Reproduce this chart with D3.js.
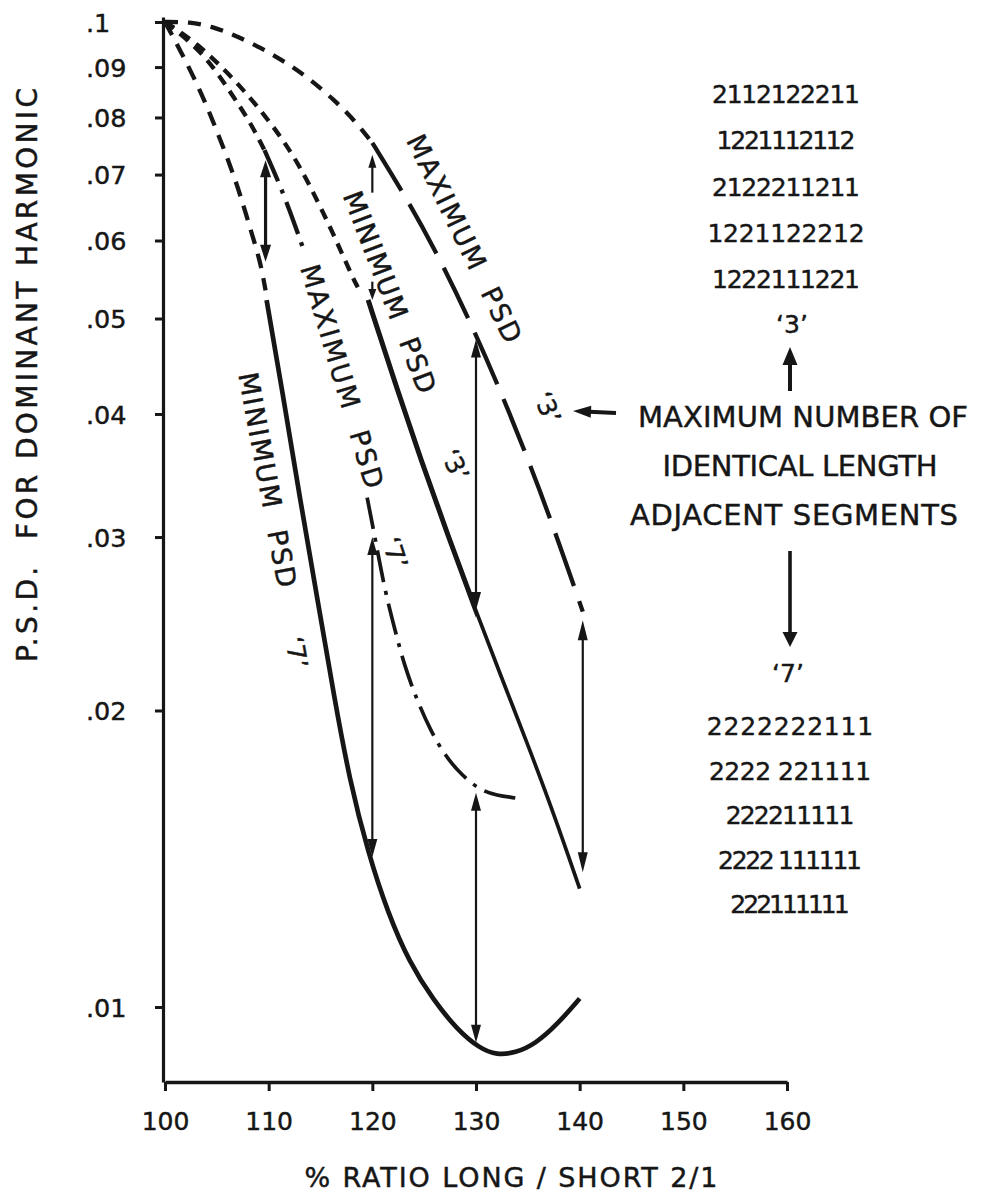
<!DOCTYPE html>
<html>
<head>
<meta charset="utf-8">
<script src="https://cdn.jsdelivr.net/npm/d3@7"></script>
<style>
  html, body { margin: 0; padding: 0; background: #fff; }
  svg { display: block; }
  text {
    font-family: "DejaVu Sans", "Liberation Sans", sans-serif;
    fill: #161616; stroke: #161616; stroke-width: 0.45px; paint-order: stroke;
  }
</style>
</head>
<body>
<svg id="chart" width="981" height="1193"></svg>
<script>
// ---------------- data ----------------
const xTicks = [100, 110, 120, 130, 140, 150, 160];
const yTicks = [0.01, 0.02, 0.03, 0.04, 0.05, 0.06, 0.07, 0.08, 0.09, 0.1];
const yTickLabels = [".01", ".02", ".03", ".04", ".05", ".06", ".07", ".08", ".09", ".1"];

// maximum PSD, '3' patterns
const max3Short = [[100, 0.1], [102.4, 0.1], [104.5, 0.099], [106.8, 0.0969], [109.2, 0.0942],
  [111.6, 0.0911], [114, 0.0875], [116.4, 0.0832], [118.3, 0.0794], [120, 0.0754]];
const max3Long = [[120, 0.0754], [122.9, 0.0673], [125.9, 0.0592], [129.6, 0.0493], [133.3, 0.04],
  [136.2, 0.0334], [138.6, 0.0284], [140.3, 0.0252]];

// minimum PSD, '3' patterns
const min3Short = [[100, 0.1], [103, 0.0954], [106.6, 0.0877], [109.7, 0.0803], [112.2, 0.0738],
  [114, 0.0682], [116.2, 0.0611], [118.1, 0.055], [118.6, 0.0538]];
const min3Solid = [[119.6, 0.0522], [122.1, 0.0433], [124.7, 0.0359], [127.3, 0.0301], [129.8, 0.02555],
  [132.4, 0.02168], [134.9, 0.01858], [137.5, 0.01572], [140, 0.01319]];

// maximum PSD, '7' patterns
const max7Short = [[100, 0.1], [103.7, 0.0932], [106.3, 0.0849], [108.2, 0.0792], [109.6, 0.0741]];
const max7DashDotA = [[109.6, 0.0741], [111.5, 0.0668], [113.3, 0.059]];
const max7DashDotB = [[119.5, 0.0329], [120.3, 0.0298], [121.2, 0.0265], [122.2, 0.0241], [123.1, 0.0222],
  [124.3, 0.0205], [125.6, 0.0191], [127, 0.018], [128.6, 0.0172], [130.4, 0.0166], [132, 0.0164], [133.8, 0.0163]];

// minimum PSD, '7' patterns
const min7Short = [[100, 0.1], [101.45, 0.0937], [103.4, 0.0853], [105.1, 0.0771], [106.9, 0.0688],
  [108.2, 0.0618], [109.2, 0.0571], [109.7, 0.0534]];
const min7Solid = [[109.8, 0.0522], [111.3, 0.0423], [113, 0.0329], [114.8, 0.0256], [116.3, 0.0207],
  [117.8, 0.017], [119.6, 0.01433], [121.5, 0.01246], [123.6, 0.01108], [125.9, 0.01016],
  [128.2, 0.00948], [130.4, 0.00907], [132, 0.00894], [133.8, 0.00898], [135.7, 0.00917],
  [137.8, 0.00959], [140, 0.0102]];

// spread arrows between the curves
const arrowX    = [109.7, 120, 120, 120, 130, 130, 140.3];
const arrowFrom = [0.0724, 0.0671, 0.0545, 0.0300, 0.0476, 0.0165, 0.0247];
const arrowTo   = [0.0571, 0.0733, 0.0522, 0.0142, 0.0253, 0.0092, 0.0137];

// labels along the curves
const curveLabels = ["MAXIMUM  PSD", "MINIMUM  PSD", "MAXIMUM  PSD", "MINIMUM  PSD"];
const curveLabelX = [128.9, 121.7, 117.1, 109.9];
const curveLabelY = [0.0603, 0.0532, 0.0437, 0.0343];
const quoteLabels = ["\u20183\u2019", "\u20183\u2019", "\u20187\u2019", "\u20187\u2019"];
const quoteLabelX = [128.0, 136.9, 122.2, 112.7];
const quoteLabelY = [0.0355, 0.0406, 0.0289, 0.0229];

// segment patterns listed beside the chart
const patterns3 = ["2112122211", "1221112112", "2122211211", "1221122212", "1222111221"];
const patterns7 = ["2222222111", "2222 221111", "222211111", "2222 111111", "222111111"];
const noteLines = ["MAXIMUM NUMBER OF", "IDENTICAL LENGTH", "ADJACENT SEGMENTS"];
const xTitle = "% RATIO LONG / SHORT 2/1";
const yTitle = "P.S.D.  FOR DOMINANT HARMONIC";

// ---------------- layout ----------------
const svg = d3.select("#chart");
const ink = "#161616";

const x = d3.scaleLinear().domain([100, 160]).range([165, 787]);
const yRef = d3.scaleLog().domain([0.01, 0.1]).range([1007, 22]);
const y = d3.scaleLog().domain([yRef.invert(1082), yRef.invert(17)]).range([1082, 17]);

// axes
const gx = svg.append("g")
  .attr("transform", `translate(0,${y.range()[0]})`)
  .call(d3.axisBottom(x).tickValues(xTicks).tickFormat(d3.format("d"))
    .tickSizeInner(9).tickSizeOuter(0).tickPadding(21));
gx.select(".domain").attr("stroke", ink).attr("stroke-width", 3.5);
gx.selectAll(".tick line").attr("stroke", ink).attr("stroke-width", 3);
gx.selectAll(".tick text").attr("font-size", 25).attr("font-family", "DejaVu Sans").attr("fill", ink);

const gy = svg.append("g")
  .attr("transform", `translate(${x(100) - 2},0)`)
  .call(d3.axisLeft(y).tickValues(yTicks).tickFormat((d, i) => yTickLabels[i])
    .tickSizeInner(8).tickSizeOuter(0));
gy.select(".domain").attr("stroke", ink).attr("stroke-width", 3.2);
gy.selectAll(".tick line").attr("stroke", ink).attr("stroke-width", 3);
gy.selectAll(".tick text")
  .attr("font-size", 25.5).attr("font-family", "DejaVu Sans").attr("fill", ink)
  .attr("text-anchor", "start").attr("x", -77).attr("dy", "0.36em");

// axis titles
svg.append("text")
  .attr("x", 511).attr("y", 1187)
  .attr("text-anchor", "middle").attr("font-size", 27)
  .attr("textLength", 413).attr("lengthAdjust", "spacing")
  .style("white-space", "pre")
  .text(xTitle);

svg.append("text")
  .attr("transform", "translate(37,375) rotate(-90)")
  .attr("text-anchor", "middle").attr("font-size", 28)
  .attr("textLength", 574).attr("lengthAdjust", "spacing")
  .style("white-space", "pre")
  .text(yTitle);

// curves
const line = d3.line().x(d => x(d[0])).y(d => y(d[1])).curve(d3.curveBasis);
const curveSegments = [
  { data: max3Short,    dash: "13,10",    width: 4.3 },
  { data: max3Long,     dash: "56,16",    width: 4.3 },
  { data: min3Short,    dash: "11,8",     width: 4.3 },
  { data: min3Solid,    dash: null,       width: 3.7 },
  { data: max7Short,    dash: "11,8",     width: 4.3 },
  { data: max7DashDotA, dash: "34,9,4,9", width: 4.3 },
  { data: max7DashDotB, dash: "32,9,4,9", width: 3.7 },
  { data: min7Short,    dash: "15,10",    width: 4.3 },
  { data: min7Solid,    dash: null,       width: 4.7 }
];
const gc = svg.append("g");
gc.selectAll("path")
  .data(curveSegments)
  .join("path")
  .attr("d", d => line(d.data))
  .attr("fill", "none")
  .attr("stroke", ink)
  .attr("stroke-width", d => d.width)
  .attr("stroke-dasharray", d => d.dash)
  .attr("stroke-linejoin", "round");

// the minimum '3' curve is drawn heavier up to 130
svg.append("clipPath").attr("id", "upperPart")
  .append("rect")
  .attr("x", x(100)).attr("y", 0)
  .attr("width", x(130) - x(100)).attr("height", y.range()[0]);
gc.append("path")
  .attr("d", line(min3Solid))
  .attr("clip-path", "url(#upperPart)")
  .attr("fill", "none").attr("stroke", ink).attr("stroke-width", 5);

// arrow helper: shaft plus filled heads
function drawArrow(g, x1, y1, x2, y2, o) {
  const dx = x2 - x1, dy = y2 - y1, len = Math.hypot(dx, dy);
  const ux = dx / len, uy = dy / len, px = -uy, py = ux;
  const inset = o.headL * 0.6;
  const sx = o.start ? x1 + ux * inset : x1, sy = o.start ? y1 + uy * inset : y1;
  const ex = o.end ? x2 - ux * inset : x2, ey = o.end ? y2 - uy * inset : y2;
  g.append("line").attr("x1", sx).attr("y1", sy).attr("x2", ex).attr("y2", ey)
    .attr("stroke", ink).attr("stroke-width", o.width);
  const head = (tx, ty, dirx, diry) => {
    const bx = tx - dirx * o.headL, by = ty - diry * o.headL;
    g.append("path")
      .attr("d", `M${tx},${ty}L${bx + px * o.headW / 2},${by + py * o.headW / 2}` +
                 `L${bx - px * o.headW / 2},${by - py * o.headW / 2}Z`)
      .attr("fill", ink);
  };
  if (o.end) head(x2, y2, ux, uy);
  if (o.start) head(x1, y1, -ux, -uy);
}

const arrowStyles = [
  { width: 3.2, headL: 17, headW: 11, start: true,  end: true },
  { width: 2.2, headL: 13, headW: 8,  start: false, end: true },
  { width: 2.2, headL: 11, headW: 8,  start: false, end: true },
  { width: 2.2, headL: 18, headW: 10, start: true,  end: true },
  { width: 2.2, headL: 18, headW: 10, start: true,  end: true },
  { width: 2.2, headL: 18, headW: 10, start: true,  end: true },
  { width: 2.2, headL: 20, headW: 10, start: true,  end: true }
];
const ga = svg.append("g");
arrowX.forEach((xv, i) => {
  drawArrow(ga, x(xv), y(arrowFrom[i]), x(xv), y(arrowTo[i]), arrowStyles[i]);
});

// labels running along the curves
const labelAngles = [64, 69, 73.5, 79.5];
const labelLengths = [228, 214, 232, 218];
svg.append("g").selectAll("text")
  .data(curveLabels)
  .join("text")
  .attr("transform", (d, i) => `translate(${x(curveLabelX[i])},${y(curveLabelY[i])}) rotate(${labelAngles[i]})`)
  .attr("text-anchor", "middle").attr("dy", "0.36em")
  .attr("font-size", 27)
  .attr("textLength", (d, i) => labelLengths[i]).attr("lengthAdjust", "spacing")
  .style("white-space", "pre")
  .text(d => d);

const quoteAngles = [65, 68, 72, 80];
svg.append("g").selectAll("text")
  .data(quoteLabels)
  .join("text")
  .attr("transform", (d, i) => `translate(${x(quoteLabelX[i])},${y(quoteLabelY[i])}) rotate(${quoteAngles[i]})`)
  .attr("text-anchor", "middle").attr("dy", "0.36em")
  .attr("font-size", 25)
  .text(d => d);

// pattern lists beside the chart
const glyphWidth = { "2": 19.4, "1": 10.2, " ": 5 };
const rowWidth = s => Array.from(s).reduce((a, c) => a + (glyphWidth[c] || 15), 0);

const gp = svg.append("g").attr("font-size", 25);
gp.selectAll("text.p3")
  .data(patterns3)
  .join("text").attr("class", "p3")
  .attr("x", 786).attr("y", (d, i) => 103 + i * 46.3)
  .attr("text-anchor", "middle")
  .attr("textLength", d => rowWidth(d)).attr("lengthAdjust", "spacing")
  .style("white-space", "pre")
  .text(d => d);
gp.append("text").attr("x", 792).attr("y", 333).attr("text-anchor", "middle").text(quoteLabels[0]);

gp.append("text").attr("x", 788).attr("y", 682).attr("text-anchor", "middle").text(quoteLabels[2]);
gp.selectAll("text.p7")
  .data(patterns7)
  .join("text").attr("class", "p7")
  .attr("x", 790).attr("y", (d, i) => 735 + i * 44.5)
  .attr("text-anchor", "middle")
  .attr("textLength", d => rowWidth(d)).attr("lengthAdjust", "spacing")
  .style("white-space", "pre")
  .text(d => d);

// note in the middle of the right column
const noteCenters = [803, 800, 794];
const noteLengths = [330, 275, 328];
svg.append("g").selectAll("text")
  .data(noteLines)
  .join("text")
  .attr("x", (d, i) => noteCenters[i]).attr("y", (d, i) => 427 + i * 49)
  .attr("text-anchor", "middle").attr("font-size", 29)
  .attr("textLength", (d, i) => noteLengths[i]).attr("lengthAdjust", "spacing")
  .text(d => d);

// pointers from the note
const gn = svg.append("g");
drawArrow(gn, 790, 391, 790, 347, { width: 4, headL: 18, headW: 15, start: false, end: true });
drawArrow(gn, 790, 551, 790, 647, { width: 3.6, headL: 15, headW: 15, start: false, end: true });
drawArrow(gn, 616, 413, 573, 411, { width: 4, headL: 18, headW: 12, start: false, end: true });
</script>
</body>
</html>
